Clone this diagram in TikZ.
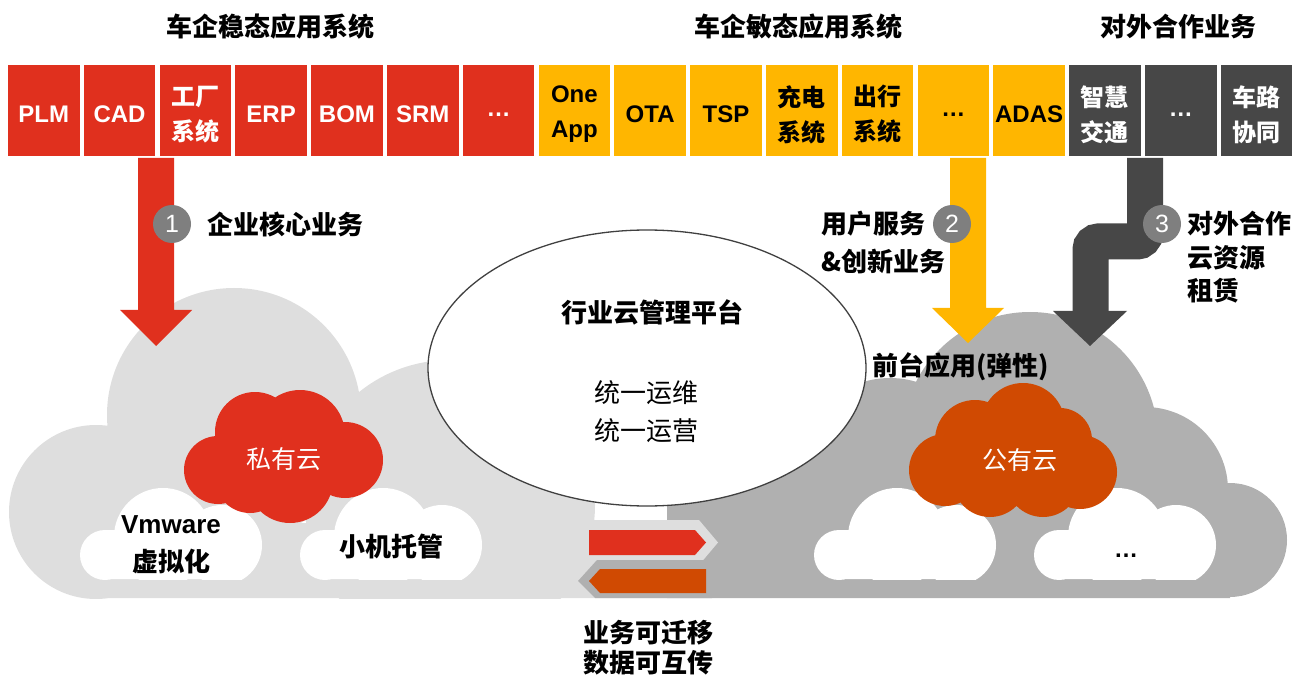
\documentclass[tikz,border=0pt]{standalone}
\usepackage{fontspec}
\setmainfont{Liberation Sans}
\newfontfamily\cjk{Noto Sans CJK SC}
\definecolor{pred}{HTML}{E0301E}
\definecolor{pyellow}{HTML}{FFB600}
\definecolor{pdark}{HTML}{474747}
\definecolor{pbadge}{HTML}{7F7F7F}
\definecolor{plight}{HTML}{DEDEDE}
\definecolor{pgray}{HTML}{B0B0B0}
\definecolor{porange}{HTML}{D04A02}
\definecolor{pline}{HTML}{404040}
\newcommand\whitecloud[1]{%
  \begin{scope}[shift={(#1,0)}]
    \clip (0,0) rectangle (400,579);
    \fill[white] (105,555) circle[radius=25pt] (163,537) circle[radius=49pt]
      (222,545) circle[radius=40pt] (105,530) rectangle (222,579);
  \end{scope}}
\begin{document}
\begin{tikzpicture}[x=1pt,y=-1pt,
  box/.style={minimum width=71.5pt, minimum height=91pt, inner sep=0pt},
  rbox/.style={box, fill=pred},
  ybox/.style={box, fill=pyellow},
  gbox/.style={box, fill=pdark},
  btxt/.style={inner sep=0pt, align=center, font=\bfseries\fontsize{24}{35}\selectfont},
  rboxt/.style={btxt, text=white},
  yboxt/.style={btxt, text=black},
  gboxt/.style={btxt, text=white},
  head/.style={font=\cjk\bfseries\fontsize{26}{30}\selectfont, inner sep=0pt},
  lbl/.style={font=\cjk\bfseries\fontsize{26}{30}\selectfont, inner sep=0pt},
  reg/.style={font=\cjk\fontsize{26}{30}\selectfont, inner sep=0pt},
  cloudtxt/.style={font=\cjk\fontsize{25}{30}\selectfont, inner sep=0pt, text=white},
  badge/.style={circle, fill=pbadge, minimum size=38pt, inner sep=0pt, text=white, font=\fontsize{25}{30}\selectfont},
]
\useasboundingbox (0,0) rectangle (1309,676);

% headings
\node[head] (h1) at (270,27) {车企稳态应用系统};
\node[head] (h2) at (798,27) {车企敏态应用系统};
\node[head] (h3) at (1178,27) {对外合作业务};

% boxes
\foreach \i/\c/\t in {0/rbox/PLM, 1/rbox/CAD, 2/rbox/{\cjk 工厂\\\cjk 系统}, 3/rbox/ERP, 4/rbox/BOM, 5/rbox/SRM, 6/rbox/…,
  7/ybox/{One\\App}, 8/ybox/OTA, 9/ybox/TSP, 10/ybox/{\cjk 充电\\\cjk 系统}, 11/ybox/{\cjk 出行\\\cjk 系统}, 12/ybox/…, 13/ybox/ADAS,
  14/gbox/{\cjk 智慧\\\cjk 交通}, 15/gbox/…, 16/gbox/{\cjk 车路\\\cjk 协同}}
  {
  \node[\c] (b\i) at ({43.75+75.8*\i},110.5) {};
  \node[\c t] (t\i) at ([yshift=-4pt]b\i.center) {\t};
  }

% big clouds
\begin{scope}
  \clip (0,0) rectangle (1309,598);
  \fill[plight] (96,512) circle[radius=87pt] (234,415) circle[radius=127pt]
    (450,505) circle[radius=145pt] (96,523) rectangle (667,598);
  \fill[pgray] (890,470) circle[radius=92pt] (1030,440) circle[radius=128pt]
    (1145,490) circle[radius=83pt] (1230,540) circle[radius=57pt]
    (667,440) rectangle (900,598) (667,505) rectangle (1230,598);
\end{scope}

% small white clouds
\whitecloud{0}
\whitecloud{220}
\whitecloud{734}
\whitecloud{954}

% red private cloud
\fill[pred] (218,470) circle[radius=34pt] (255,432) circle[radius=40pt]
  (300,435) circle[radius=45pt] (345,460) circle[radius=38pt]
  (290,480) circle[radius=43pt] (250,478) circle[radius=35pt] (280,460) circle[radius=40pt];
% orange public cloud
\fill[porange] (945,470) circle[radius=36pt] (975,440) circle[radius=40pt]
  (1023,425) circle[radius=42pt] (1060,440) circle[radius=32pt]
  (1080,472) circle[radius=37pt] (990,480) circle[radius=37pt]
  (1043,480) circle[radius=37pt] (1015,460) circle[radius=40pt];

\node[cloudtxt] (priv) at (284,459) {私有云};
\node[cloudtxt] (pub) at (1020,460) {公有云};

\node[inner sep=0pt, font=\bfseries\fontsize{26}{30}\selectfont] (vm1) at (171,525) {Vmware};
\node[lbl] (vm2) at (171,562) {虚拟化};
\node[lbl] (xj) at (391,547) {小机托管};
\node[inner sep=0pt, anchor=base, font=\bfseries\fontsize{24}{30}\selectfont] (dots) at (1126,557) {…};

% ellipse
\draw[fill=white, draw=pline, line width=1.3pt] (647,368) ellipse[x radius=219pt, y radius=138pt];
\node[lbl] (e1) at (652,312) {行业云管理平台};
\node[reg] (e2) at (646,393) {统一运维};
\node[reg] (e3) at (646,431) {统一运营};

\node[lbl, anchor=west] (front) at (872,367) {前台应用(弹性)};

% arrows
\coordinate (a1t) at (156,346);
\fill[pred] (138,158) -- (174,158) -- (174,310) -- (192,310) -- (a1t) -- (120,310) -- (138,310) -- cycle;
\coordinate (a2t) at (968,343);
\fill[pyellow] (950,158) -- (986,158) -- (986,308) -- (1004,308) -- (a2t) -- (932,308) -- (950,308) -- cycle;
\coordinate (a3t) at (1090,346);
\draw[pdark, line width=36pt, rounded corners=8pt] (1145,158) -- (1145,241.5) -- (1090.5,241.5) -- (1090.5,312);
\fill[pdark] (1053,311) -- (1127,311) -- (a3t) -- cycle;

% badges
\node[badge] (n1) at (172,224) {1};
\node[badge] (n2) at (952,224) {2};
\node[badge] (n3) at (1162,224) {3};

\node[lbl, anchor=west] (l1) at (207,224) {企业核心业务};
\node[lbl, anchor=west] (l2a) at (821,224) {用户服务};
\node[lbl, anchor=west] (l2b) at (821,262) {\&创新业务};
\node[lbl, anchor=west] (l3a) at (1187,224) {对外合作};
\node[lbl, anchor=west] (l3b) at (1187,258) {云资源};
\node[lbl, anchor=west] (l3c) at (1187,291) {租赁};

% exchange arrows
\fill[plight] (583,520) -- (699,520) -- (718,542.5) -- (699,565) -- (583,565) -- cycle;
\fill[pred] (589,530) -- (695,530) -- (706,542.5) -- (695,555) -- (589,555) -- cycle;
\fill[pgray] (578,581) -- (597,560) -- (712,560) -- (712,598) -- (595,598) -- cycle;
\fill[porange] (589,581) -- (600,569) -- (706,569) -- (706,593) -- (600,593) -- cycle;

\node[lbl] (m1) at (648,633) {业务可迁移};
\node[lbl] (m2) at (648,663) {数据可互传};
\end{tikzpicture}
\end{document}
